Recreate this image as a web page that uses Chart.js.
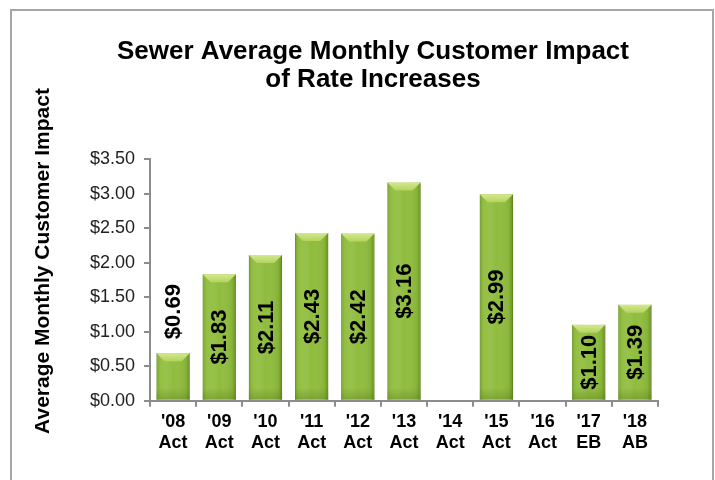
<!DOCTYPE html>
<html>
<head>
<meta charset="utf-8">
<script src="https://cdn.jsdelivr.net/npm/chart.js@4/dist/chart.umd.min.js"></script>
<style>
  html, body { margin: 0; padding: 0; background: #fff; overflow: hidden; }
  #marco {
    position: absolute; left: 10px; top: 9px; width: 700px; height: 520px;
    border: 2px solid #a6a6a6;
  }
  #grafico { position: absolute; left: 0; top: 0; }
</style>
</head>
<body>
<div id="marco"></div>
<canvas id="grafico" width="715" height="480"></canvas>
<script>
// Datos
const anios = ["'08", "'09", "'10", "'11", "'12", "'13", "'14", "'15", "'16", "'17", "'18"];
const tipos = ["Act", "Act", "Act", "Act", "Act", "Act", "Act", "Act", "Act", "EB", "AB"];
const impacto = [0.69, 1.83, 2.11, 2.43, 2.42, 3.16, null, 2.99, null, 1.10, 1.39];
const ticksY = [0, 0.5, 1, 1.5, 2, 2.5, 3, 3.5];

const titulo = ["Sewer Average Monthly Customer Impact", "of Rate Increases"];
const tituloEje = "Average Monthly Customer Impact";

const etiquetas = anios.map((a, i) => [a, tipos[i]]);
const fuente = "Liberation Sans, Arial, sans-serif";

// Titulos dibujados a mano para poder ubicarlos donde van
const pluginTitulos = {
  id: "titulos",
  afterDraw(chart) {
    const ctx = chart.ctx;
    ctx.save();
    ctx.fillStyle = "#000";
    ctx.font = "bold 26px " + fuente;
    ctx.textAlign = "center";
    ctx.textBaseline = "alphabetic";
    ctx.fillText(titulo[0], 373, 59);
    ctx.fillText(titulo[1], 373, 87);

    ctx.font = "bold 21px " + fuente;
    ctx.textBaseline = "middle";
    ctx.translate(43, 261);
    ctx.rotate(-Math.PI / 2);
    ctx.fillText(tituloEje, 0, 0);
    ctx.restore();
  }
};

// Relieve verde de las barras
const pluginBisel = {
  id: "bisel",
  afterDatasetDraw(chart, args) {
    const ctx = chart.ctx;
    args.meta.data.forEach((barra, i) => {
      if (impacto[i] === null) return;
      const p = barra.getProps(["x", "y", "base", "width"], true);
      const izq = p.x - p.width / 2, der = p.x + p.width / 2;
      const arriba = p.y, abajo = p.base;
      const b = 8;
      ctx.save();
      // sombra lateral
      let g = ctx.createLinearGradient(izq, 0, der, 0);
      g.addColorStop(0, "rgba(90,130,20,0.55)");
      g.addColorStop(0.12, "rgba(160,200,80,0.25)");
      g.addColorStop(0.5, "rgba(255,255,255,0)");
      g.addColorStop(0.88, "rgba(90,130,20,0.15)");
      g.addColorStop(1, "rgba(70,100,15,0.6)");
      ctx.fillStyle = g;
      ctx.fillRect(izq, arriba, p.width, abajo - arriba);
      // cara superior
      ctx.beginPath();
      ctx.moveTo(izq, arriba);
      ctx.lineTo(der, arriba);
      ctx.lineTo(der - b, arriba + b);
      ctx.lineTo(izq + b, arriba + b);
      ctx.closePath();
      g = ctx.createLinearGradient(0, arriba, 0, arriba + b);
      g.addColorStop(0, "#d4e88e");
      g.addColorStop(1, "#b3d45e");
      ctx.fillStyle = g;
      ctx.fill();
      // parte baja mas oscura
      g = ctx.createLinearGradient(0, abajo - 12, 0, abajo);
      g.addColorStop(0, "rgba(80,110,20,0)");
      g.addColorStop(1, "rgba(80,110,20,0.35)");
      ctx.fillStyle = g;
      ctx.fillRect(izq, abajo - 12, p.width, 12);
      ctx.restore();
    });
  }
};

// Valores verticales dentro (o encima) de cada barra
const pluginValores = {
  id: "valores",
  afterDatasetsDraw(chart) {
    const ctx = chart.ctx;
    const meta = chart.getDatasetMeta(0);
    ctx.save();
    ctx.font = "bold 22px " + fuente;
    ctx.fillStyle = "#000";
    ctx.textBaseline = "middle";
    meta.data.forEach((barra, i) => {
      const v = impacto[i];
      if (v === null) return;
      const p = barra.getProps(["x", "y", "base"], true);
      const texto = "$" + v.toFixed(2);
      const ancho = ctx.measureText(texto).width;
      const alto = p.base - p.y;
      ctx.save();
      if (ancho + 10 < alto) {
        ctx.translate(p.x, (p.y + p.base) / 2);
        ctx.textAlign = "center";
      } else {
        ctx.translate(p.x, p.y - 14);
        ctx.textAlign = "left";
      }
      ctx.rotate(-Math.PI / 2);
      ctx.fillText(texto, 0, 1);
      ctx.restore();
    });
    ctx.restore();
  }
};

new Chart(document.getElementById("grafico"), {
  type: "bar",
  data: {
    labels: etiquetas,
    datasets: [{
      data: impacto,
      backgroundColor: "#8fbc3d",
      borderColor: "#79a32e",
      borderWidth: 1,
      barPercentage: 0.72,
      categoryPercentage: 1
    }]
  },
  options: {
    responsive: false,
    animation: false,
    layout: { padding: { left: 0, right: 57, top: 159, bottom: 22 } },
    plugins: { legend: { display: false }, tooltip: { enabled: false } },
    scales: {
      x: {
        offset: true,
        border: { color: "#8c8c8c", width: 2 },
        grid: { offset: true, drawOnChartArea: false, color: "#8c8c8c", lineWidth: 2, tickLength: 6 },
        ticks: { color: "#000", font: { family: fuente, size: 18, weight: "bold" }, padding: 4, maxRotation: 0, autoSkip: false }
      },
      y: {
        min: 0,
        max: 3.5,
        afterBuildTicks(scale) { scale.ticks = ticksY.map(v => ({ value: v })); },
        afterFit(scale) { scale.width = 150; },
        border: { color: "#8c8c8c", width: 2 },
        grid: { drawOnChartArea: false, color: "#8c8c8c", lineWidth: 2, tickLength: 6 },
        ticks: {
          color: "#222",
          font: { family: fuente, size: 18 },
          padding: 9,
          callback: v => "$" + Number(v).toFixed(2)
        }
      }
    }
  },
  plugins: [pluginTitulos, pluginBisel, pluginValores]
});
</script>
</body>
</html>
